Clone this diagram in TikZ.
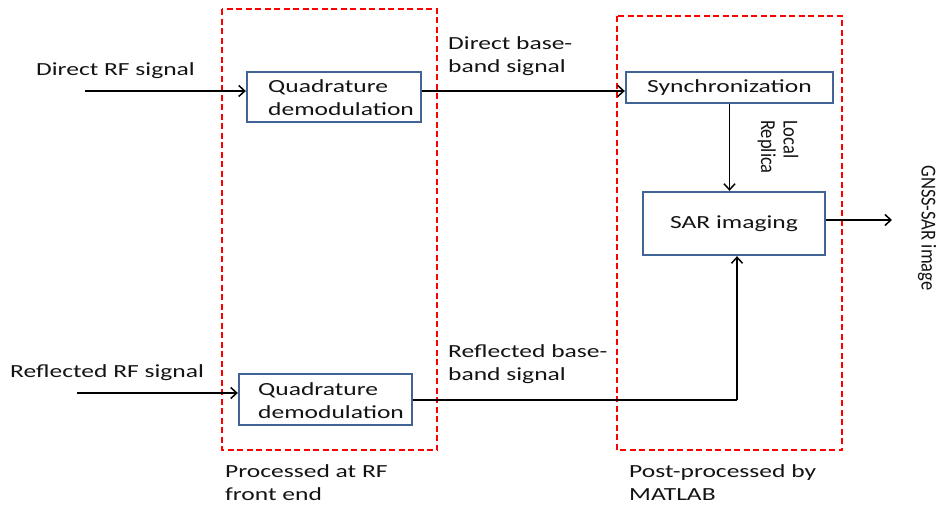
\documentclass[tikz,border=0pt]{standalone}
\usepackage{fontspec}
\setmainfont{Carlito}
\newfontfamily\widefont{Carlito}[FakeStretch=1.38]
\usetikzlibrary{arrows.meta}
\definecolor{boxblue}{RGB}{65,100,150}
\definecolor{txtc}{RGB}{20,20,20}
\tikzset{
  blk/.style={draw=boxblue, line width=2.3pt, fill=white, inner sep=0pt},
  grp/.style={draw=red, line width=2.3pt, dash pattern=on 6pt off 3.5pt},
  lbl/.style={text=txtc, font=\widefont\fontsize{18.5}{22.5}\selectfont, inner sep=0pt, align=left},
  vlbl/.style={text=txtc, font=\fontsize{18.5}{22.5}\selectfont, inner sep=0pt, align=left, rotate=-90},
  flow/.style={draw=black, line width=1.8pt, -{Straight Barb[length=6pt,width=11pt,line width=1.5pt]}},
  wire/.style={draw=black, line width=1.8pt}
}
\begin{document}
\begin{tikzpicture}[x=1pt,y=-1pt]
\useasboundingbox[fill=white] (0,0) rectangle (937,506);

% dashed processing groups
\draw[grp] (222,9) rectangle (437,450);
\draw[grp] (617,16) rectangle (842,450);

% blocks
\node[blk, minimum width=174pt, minimum height=50pt] (qd1) at (334,97) {};
\node[lbl, anchor=base west] (qd1t) at (268,115) {Quadrature\\demodulation};
\node[blk, minimum width=173pt, minimum height=51pt] (qd2) at (325.5,399.5) {};
\node[lbl, anchor=base west] (qd2t) at (258,418) {Quadrature\\demodulation};
\node[blk, minimum width=207pt, minimum height=31pt] (sync) at (729.5,87.5) {};
\node[lbl] (synct) at (sync.center) {Synchronization};
\node[blk, minimum width=182pt, minimum height=63pt] (sar) at (734,223.5) {};
\node[lbl] (sart) at (sar.center) {SAR imaging};

% text labels
\node[lbl, anchor=base west] (drf) at (36,75) {Direct RF signal};
\node[lbl, anchor=base west] (rrf) at (10,377) {Reflected RF signal};
\node[lbl, anchor=base west] (dbb) at (448,72) {Direct base-\\band signal};
\node[lbl, anchor=base west] (rbb) at (448,380) {Reflected base-\\band signal};
\node[lbl, anchor=base west] (pre) at (225,500) {Processed at RF\\front end};
\node[lbl, anchor=base west] (post) at (629,500) {Post-processed by\\MATLAB};
\node[vlbl] (rep) at (778,147) {\scalebox{1}[1.15]{Local}\\\scalebox{1}[1.15]{Replica}};
\node[vlbl] (img) at (927,228) {\scalebox{1}[1.15]{GNSS-SAR image}};

% connectors
\coordinate (din) at (85,91);
\coordinate (rin) at (77,393);
\coordinate (rcorner) at (737,400);
\coordinate (out) at (892,220);
\draw[flow] (din) -- (din -| qd1.west);
\draw[flow] (din -| qd1.east) -- (din -| sync.west);
\draw[flow] (sync.south) -- (sync.south |- sar.north);
\draw[flow] (rin) -- (rin -| qd2.west);
\draw[wire] (qd2.east |- rcorner) -- (rcorner);
\draw[flow] (rcorner) -- (rcorner |- sar.south);
\draw[flow] (sar.east |- out) -- (out);
\end{tikzpicture}
\end{document}
